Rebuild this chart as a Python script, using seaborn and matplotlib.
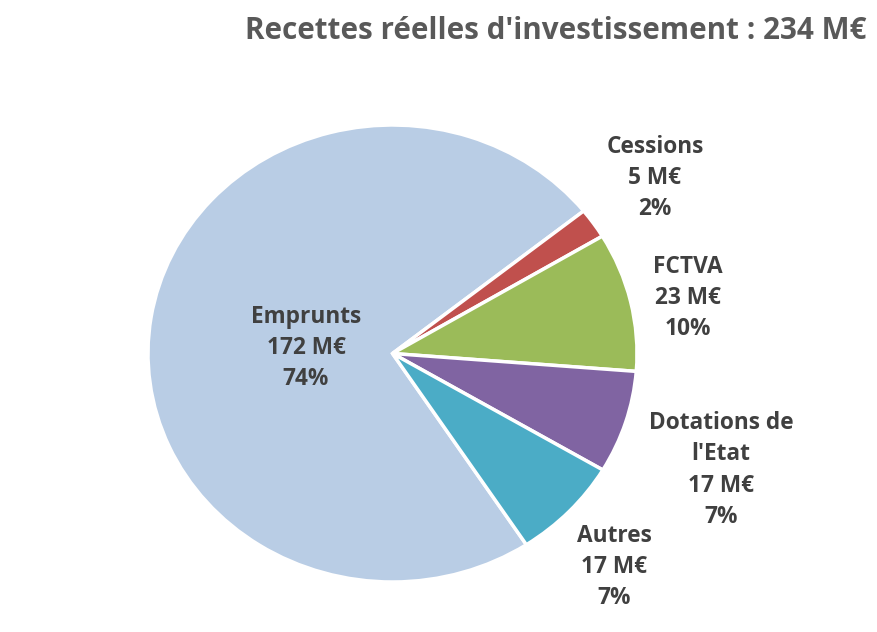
import matplotlib
matplotlib.use("Agg")
import matplotlib.pyplot as plt
import seaborn as sns

categories = ["Emprunts", "Cessions", "FCTVA", "Dotations de\nl'Etat", "Autres"]
values = [172, 5, 23, 17, 17]
percents = ["74%", "2%", "10%", "7%", "7%"]
colors = ["#B9CDE5", "#C0504D", "#9BBB59", "#8064A2", "#4BACC6"]
title = "Recettes réelles d'investissement : 234 M€"

sns.set_theme(style="white")
plt.rcParams["font.family"] = ["Open Sans", "DejaVu Sans"]

W, H = 877, 632
fig = plt.figure(figsize=(W / 100, H / 100), dpi=100)
fig.patch.set_facecolor("white")

# pie axes (pixel bounding box of the ellipse)
left, right, top, bottom = 148, 637, 125, 582
ax = fig.add_axes([left / W, 1 - bottom / H, (right - left) / W, (bottom - top) / H])
ax.pie(values, colors=colors, startangle=303.2, counterclock=False, radius=1,
       wedgeprops=dict(edgecolor="white", linewidth=2.5))
ax.set_aspect("auto")
ax.set_xlim(-1.0, 1.0)
ax.set_ylim(-1.0, 1.0)
ax.axis("off")

# labels (pixel positions of text block centers)
label_pos = [(306, 348), (655, 178), (688, 298), (721, 470), (614, 567)]
for cat, v, p, (x, y) in zip(categories, values, percents, label_pos):
    txt = f"{cat}\n{v} M€\n{p}"
    fig.text(x / W, 1 - y / H, txt, ha="center", va="center", fontsize=16.3,
             fontweight="bold", color="#404040", linespacing=1.39)

fig.text(556 / W, 1 - 31 / H, title, ha="center", va="center", fontsize=21.3,
         fontweight="bold", color="#595959")

fig.savefig("out.png", dpi=100, facecolor="white")
